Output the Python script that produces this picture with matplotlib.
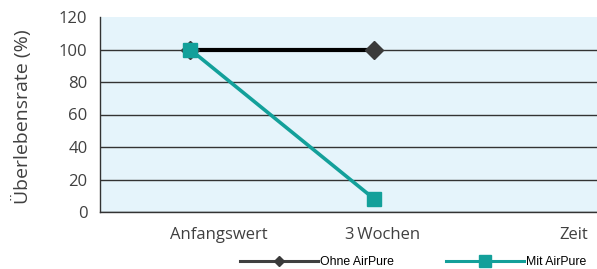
import matplotlib.pyplot as plt
from matplotlib.lines import Line2D
from matplotlib.transforms import ScaledTranslation

categories = ["Anfangswert", "3\u2009Wochen"]
ohne_airpure = [100, 100]
mit_airpure = [100, 8]
yticks = [0, 20, 40, 60, 80, 100, 120]

teal = "#13a09a"
dark = "#3a3a3a"
bg = "#e5f4fb"

plt.rcParams["font.family"] = ["Open Sans", "DejaVu Sans"]

fig = plt.figure(figsize=(5.97, 2.69), dpi=100)
W, H = 597, 269
ax = fig.add_axes([100 / W, (H - 212) / H, (W - 100) / W, (212 - 17) / H])
ax.set_facecolor(bg)

x = list(range(len(categories)))
ax.plot(x, ohne_airpure, color="black", lw=3, marker="D", ms=9,
        mfc=dark, mec=dark, zorder=3)
ax.plot(x, mit_airpure, color=teal, lw=2.6, marker="s", ms=9.5,
        mfc=teal, mec=teal, zorder=4)

ax.set_ylim(0, 120)
ax.set_xlim(-0.49, 2.21)
ax.set_yticks(yticks)
ax.yaxis.grid(True, color="#333333", lw=1)
ax.yaxis.get_gridlines()[-1].set_visible(False)
ax.set_axisbelow(True)
for s in ["top", "right"]:
    ax.spines[s].set_visible(False)
for s in ["left", "bottom"]:
    ax.spines[s].set_color("#333333")
    ax.spines[s].set_linewidth(1)
ax.tick_params(axis="y", length=0, pad=9, labelsize=12, labelcolor="#404040")
ax.tick_params(axis="x", length=0, pad=11, labelsize=12, labelcolor="#404040")

ax.set_xticks(x, categories)
offsets = [29, 8]
for lab, dx in zip(ax.get_xticklabels(), offsets):
    lab.set_transform(lab.get_transform() + ScaledTranslation(dx / 100, 0, fig.dpi_scale_trans))

fig.text(588 / W, (H - 235) / H, "Zeit", ha="right", va="center",
         fontsize=12, color="#404040")

fig.text(22 / W, (H - 117) / H, "Überlebensrate (%)", rotation=90,
         ha="center", va="center", fontsize=14, color="#404040")

handles = [
    Line2D([], [], color="#404040", lw=2.2, marker="D", ms=5.5, mfc=dark, mec=dark),
    Line2D([], [], color=teal, lw=2.2, marker="s", ms=8, mfc=teal, mec=teal),
]
fig.legend(handles, ["Ohne AirPure", "Mit AirPure"], loc="center",
           bbox_to_anchor=(413 / W, (H - 262) / H), ncol=2, frameon=False,
           handlelength=6.4, handletextpad=0.15, columnspacing=4.25,
           borderpad=0, prop={"family": "Liberation Sans", "size": 8.8})

fig.savefig("out.png", dpi=100)
